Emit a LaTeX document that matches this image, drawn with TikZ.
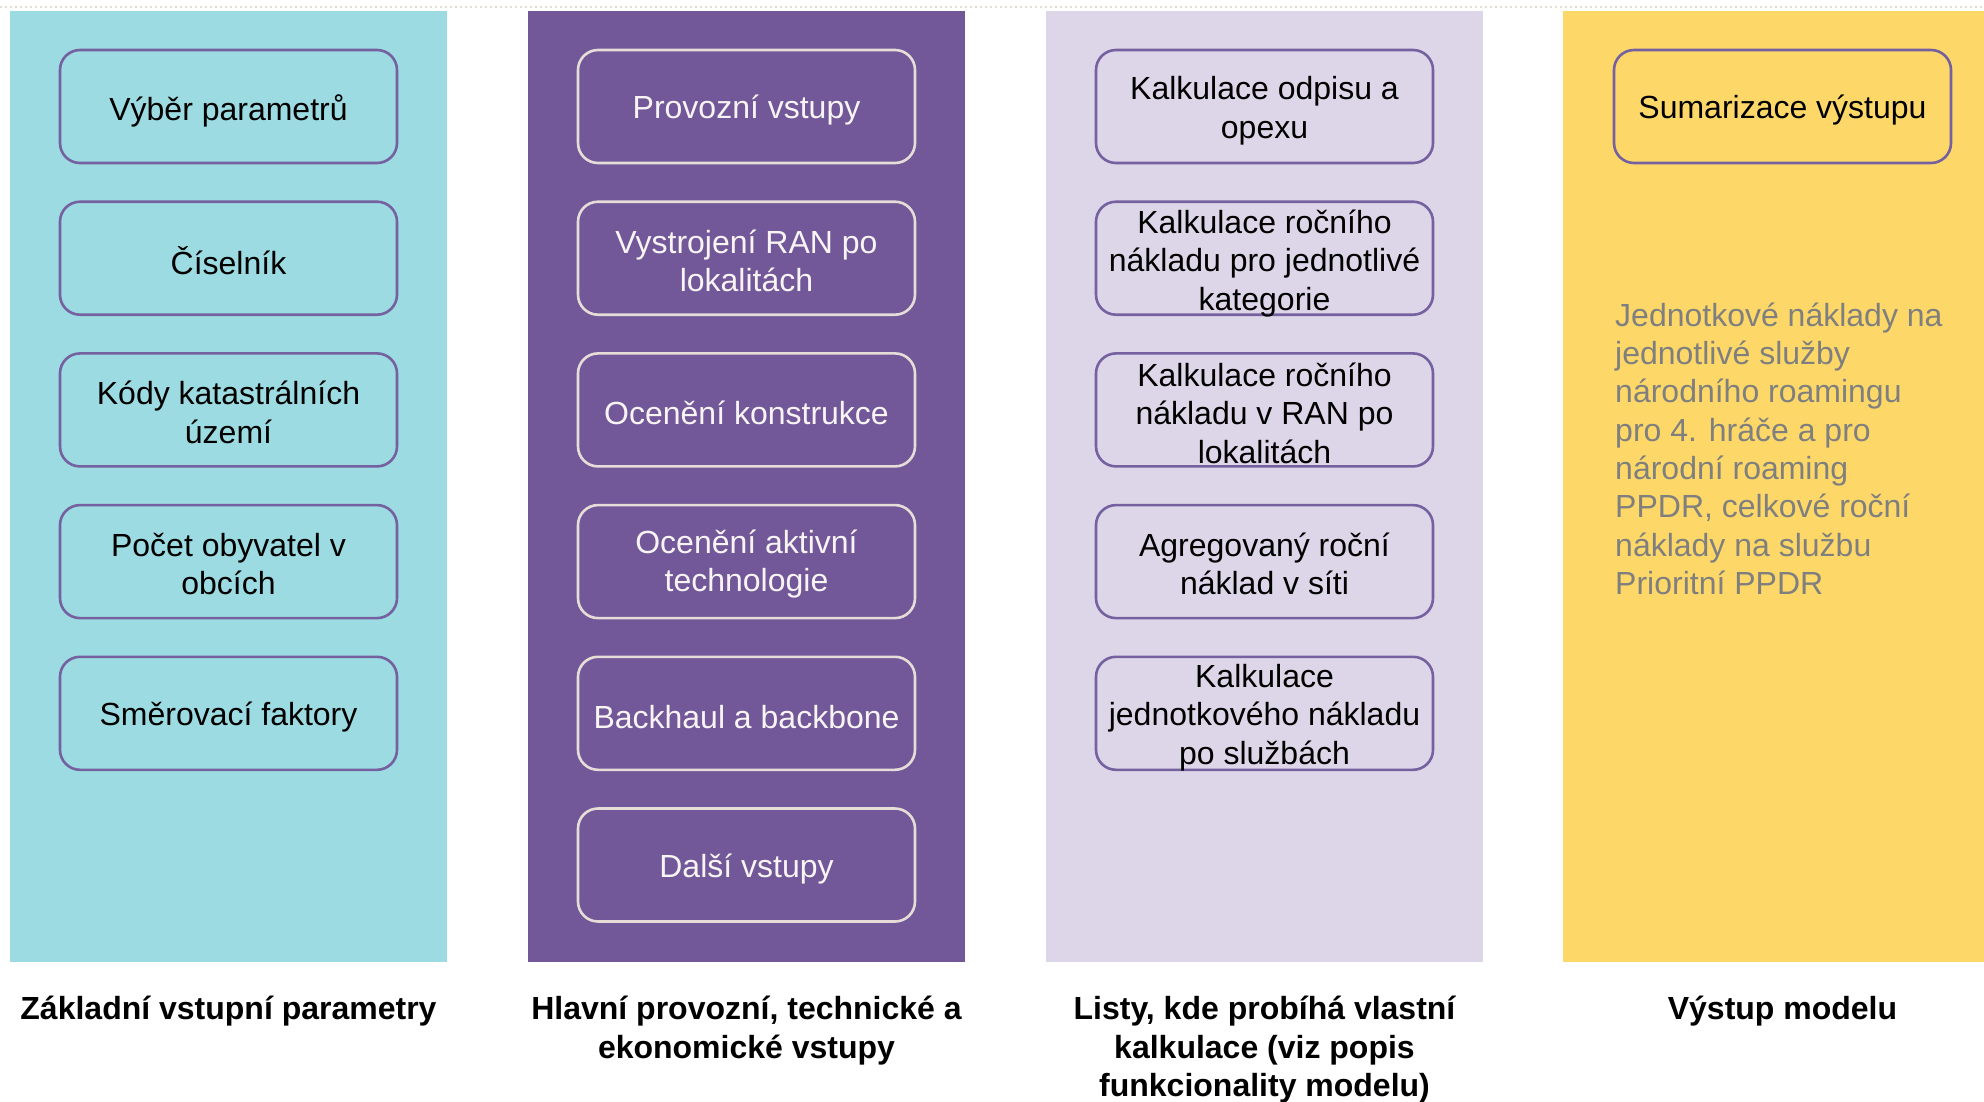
\documentclass[tikz,border=0pt]{standalone}
\usepackage{fontspec}
\setmainfont{Liberation Sans}
\definecolor{colA}{HTML}{9BDBE1}
\definecolor{colB}{HTML}{725898}
\definecolor{colC}{HTML}{DCD6E8}
\definecolor{colD}{HTML}{FDD868}
\definecolor{bordP}{HTML}{7560A0}
\definecolor{bordL}{HTML}{E6DDD8}
\definecolor{txtL}{HTML}{F8F4F4}
\definecolor{txtG}{HTML}{7F7F7F}
\definecolor{dotc}{HTML}{E6DCD6}
\tikzset{
  cell/.style={draw=bordP, line width=2.6pt, rounded corners=20pt,
    minimum width=337pt, minimum height=113pt, inner sep=0pt},
  cellL/.style={cell, draw=bordL},
  celltext/.style={inner sep=0pt, align=center,
    font=\fontsize{32pt}{38.5pt}\selectfont, text=black},
  celltextL/.style={celltext, text=txtL},
  collabel/.style={anchor=north, inner sep=0pt, align=center,
    font=\fontsize{32pt}{38.5pt}\selectfont\bfseries, text=black},
  desc/.style={anchor=north west, inner sep=0pt, align=left,
    font=\fontsize{32pt}{38.3pt}\selectfont, text=txtG}
}
% #1 name, #2 box style, #3 text style, #4 centre, #5 text shift, #6 text
\newcommand\mycell[6]{%
  \node[#2] (#1) at (#4) {};
  \node[#3] (#1t) at ([yshift=-#5pt]#1.center) {#6};
}
\begin{document}
\begin{tikzpicture}[x=1pt,y=-1pt]
\useasboundingbox (0,0) rectangle (1984,1101);
\fill[white] (0,0) rectangle (1984,1101);
\draw[dotc, line width=2pt, dash pattern=on 2pt off 3pt] (0,7) -- (1984,7);
% columns
\fill[colA] (10,11) rectangle (447,962);
\fill[colB] (528,11) rectangle (965,962);
\fill[colC] (1046,11) rectangle (1483,962);
\fill[colD] (1563,11) rectangle (1984,962);
% column 1
\mycell{a1}{cell}{celltext}{228.5,106.5}{4}{Výběr parametrů}
\mycell{a2}{cell}{celltext}{228.5,258.2}{2}{Číselník}
\mycell{a3}{cell}{celltext}{228.5,409.9}{2.5}{Kódy katastrálních\\území}
\mycell{a4}{cell}{celltext}{228.5,561.6}{2.5}{Počet obyvatel v\\obcích}
\mycell{a5}{cell}{celltext}{228.5,713.3}{4}{Směrovací faktory}
% column 2
\mycell{b1}{cellL}{celltextL}{746.5,106.5}{4}{Provozní vstupy}
\mycell{b2}{cellL}{celltextL}{746.5,258.2}{2.5}{Vystrojení RAN po\\lokalitách}
\mycell{b3}{cellL}{celltextL}{746.5,409.9}{3}{Ocenění konstrukce}
\mycell{b4}{cellL}{celltextL}{746.5,561.6}{2.5}{Ocenění aktivní\\technologie}
\mycell{b5}{cellL}{celltextL}{746.5,713.3}{4}{Backhaul a backbone}
\mycell{b6}{cellL}{celltextL}{746.5,865.0}{4}{Další vstupy}
% column 3
\mycell{c1}{cell}{celltext}{1264.5,106.5}{4}{Kalkulace odpisu a\\opexu}
\mycell{c2}{cell}{celltext}{1264.5,258.2}{5}{Kalkulace ročního\\nákladu pro jednotlivé\\kategorie}
\mycell{c3}{cell}{celltext}{1264.5,409.9}{3}{Kalkulace ročního\\nákladu v RAN po\\lokalitách}
\mycell{c4}{cell}{celltext}{1264.5,561.6}{2.5}{Agregovaný roční\\náklad v síti}
\mycell{c5}{cell}{celltext}{1264.5,713.3}{4}{Kalkulace\\jednotkového nákladu\\po službách}
% column 4
\mycell{d1}{cell}{celltext}{1782.5,106.5}{4}{Sumarizace výstupu}
\node[desc] (d2) at (1615,302.5) {Jednotkové náklady na\\jednotlivé služby\\národního roamingu\\pro 4. hráče a pro\\národní roaming\\PPDR, celkové roční\\náklady na službu\\Prioritní PPDR};
% labels
\node[collabel] (la) at (228.5,996) {Základní vstupní parametry};
\node[collabel] (lb) at (746.5,996) {Hlavní provozní, technické a\\ekonomické vstupy};
\node[collabel] (lc) at (1264.5,996) {Listy, kde probíhá vlastní\\kalkulace (viz popis\\funkcionality modelu)};
\node[collabel] (ld) at (1782.5,996) {Výstup modelu};
\end{tikzpicture}
\end{document}
